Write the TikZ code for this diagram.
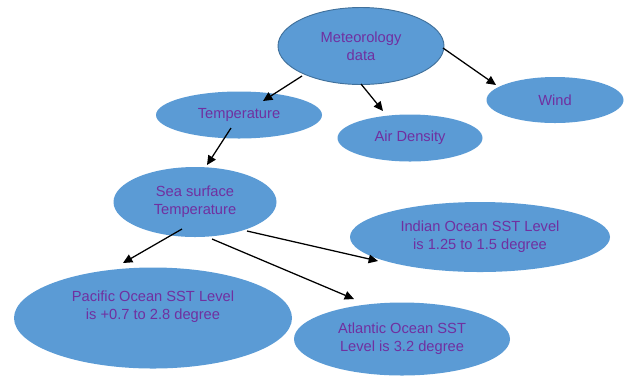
\documentclass[tikz,border=0pt]{standalone}
\usepackage{fontspec}
\setmainfont{Liberation Sans}
\usetikzlibrary{shapes.geometric,arrows.meta,calc}
\definecolor{bubble}{HTML}{5B9BD5}
\definecolor{bubbleedge}{HTML}{41719C}
\definecolor{txt}{HTML}{7030A0}
\begin{document}
\begin{tikzpicture}[x=0.75pt,y=-0.75pt,
  bub/.style={ellipse,fill=bubble,draw=none,inner sep=0pt,text=txt,align=center,
    font=\fontsize{11}{13.5}\selectfont},
  lbl/.style={text=txt,align=center,inner sep=0pt,font=\fontsize{11}{13.5}\selectfont},
  arr/.style={draw=black,line width=0.95pt,-{Triangle[length=7pt,width=6.5pt]}}]
\useasboundingbox (0,0) rectangle (630,376);
\node[bub,draw=bubbleedge,line width=0.7pt,minimum width=124.5pt,minimum height=57.75pt] (met) at (361,46) {Meteorology\\data};
\node[bub,minimum width=102.75pt,minimum height=34.5pt] (wind) at (555,100) {Wind};
\node[bub,minimum width=124.5pt,minimum height=35.25pt] (temp) at (239,115) {Temperature};
\node[bub,minimum width=108.75pt,minimum height=35.25pt] (air) at (410,138) {Air Density};
\node[bub,minimum width=122.25pt,minimum height=52.5pt] (sst) at (195,202) {Sea surface\\Temperature};
\node[bub,minimum width=195pt,minimum height=52.5pt] (ind) at (480,237) {Indian Ocean SST Level\\is 1.25 to 1.5 degree};
\node[bub,minimum width=208.5pt,minimum height=75.75pt] (pac) at (153,318) {};
\node[lbl] (pactext) at (153,307) {Pacific Ocean SST Level\\is +0.7 to 2.8 degree};
\node[bub,minimum width=162pt,minimum height=54.75pt] (atl) at (402,339) {Atlantic Ocean SST\\Level is 3.2 degree};
\draw[arr] ($(met)+(-59,30)$) -- ($(temp)+(24,-14)$);
\draw[arr] ($(met)+(0,38)$) -- ($(air)+(-27,-27)$);
\draw[arr] ($(met)+(82,2)$) -- ($(wind)+(-59,-15)$);
\draw[arr] ($(temp)+(-8,13)$) -- ($(sst)+(12,-37)$);
\draw[arr] ($(sst)+(-13,27)$) -- ($(pac)+(-30,-55)$);
\draw[arr] ($(sst)+(17,37)$) -- ($(atl)+(-48,-40)$);
\draw[arr] ($(sst)+(52,29)$) -- ($(ind)+(-102,24)$);
\end{tikzpicture}
\end{document}
